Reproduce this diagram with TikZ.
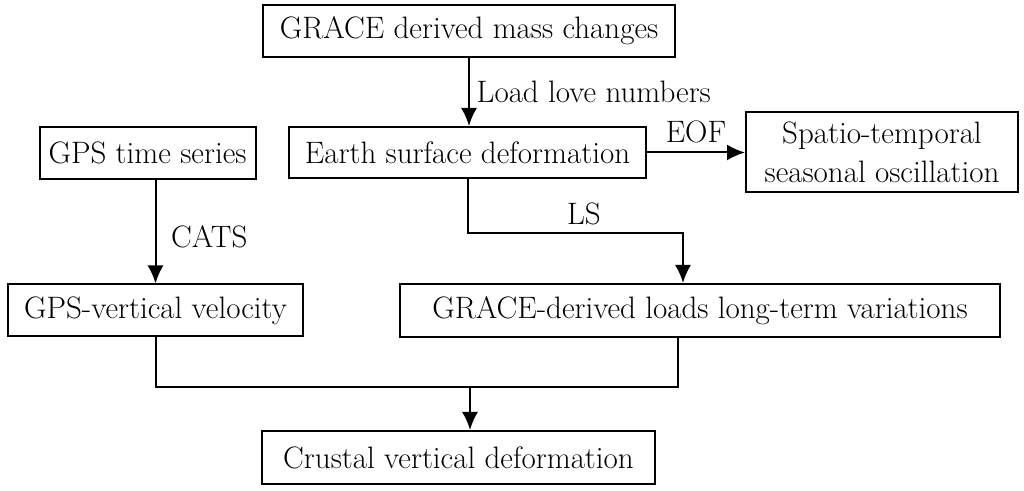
\documentclass[tikz,border=0pt]{standalone}
\usepackage{tikz}
\usetikzlibrary{arrows.meta}

\begin{document}
\begin{tikzpicture}[x=0.5pt,y=-0.5pt,
  stage/.style={draw,line width=1pt,inner sep=0pt,align=center,font=\fontsize{15.5}{19.5}\selectfont},
  lbl/.style={font=\fontsize{15.5}{19.5}\selectfont},
  flow/.style={line width=1pt,-{Latex[length=9pt,width=8pt]}},
  link/.style={line width=1pt}]
\useasboundingbox (0,0) rectangle (1024,491);

\node[stage,minimum width=206pt,minimum height=26pt] (mass) at (469,31) {GRACE derived mass changes};
\node[stage,minimum width=178.5pt,minimum height=25.5pt] (earth) at (467.5,152.5) {Earth surface deformation};
\node[stage,minimum width=136pt,minimum height=40pt] (spatio) at (882,152) {Spatio-temporal\\seasonal oscillation};
\node[stage,minimum width=108pt,minimum height=26pt] (gpsts) at (147.5,153) {GPS time series};
\node[stage,minimum width=147.5pt,minimum height=26pt] (gpsvv) at (155.5,310.5) {GPS-vertical velocity};
\node[stage,minimum width=300pt,minimum height=26.5pt] (loads) at (700,310.5) {GRACE-derived loads long-term variations};
\node[stage,minimum width=196.5pt,minimum height=26.5pt] (crustal) at (458.5,457.5) {Crustal vertical deformation};

\coordinate (lsbend) at (683,233);
\coordinate (join) at (470,387);
\coordinate (loadsout) at (678,337);

\draw[flow] (mass.south) -- node[lbl,right,pos=0.5] (llnum) {Load love numbers} (mass.south |- earth.north);
\draw[flow] (earth.east) -- node[lbl,above=1pt] (eof) {EOF} (earth.east -| spatio.west);
\draw[flow] (earth.south) |- node[lbl,above,pos=0.77] (ls) {LS} (lsbend) -- (lsbend |- loads.north);
\draw[flow] (gpsvv.north |- gpsts.south) -- node[lbl,right=4pt,pos=0.55] (cats) {CATS} (gpsvv.north);

\draw[link] (gpsvv.south) |- (loadsout |- join) -- (loadsout);
\draw[flow] (join) -- (join |- crustal.north);
\end{tikzpicture}
\end{document}
